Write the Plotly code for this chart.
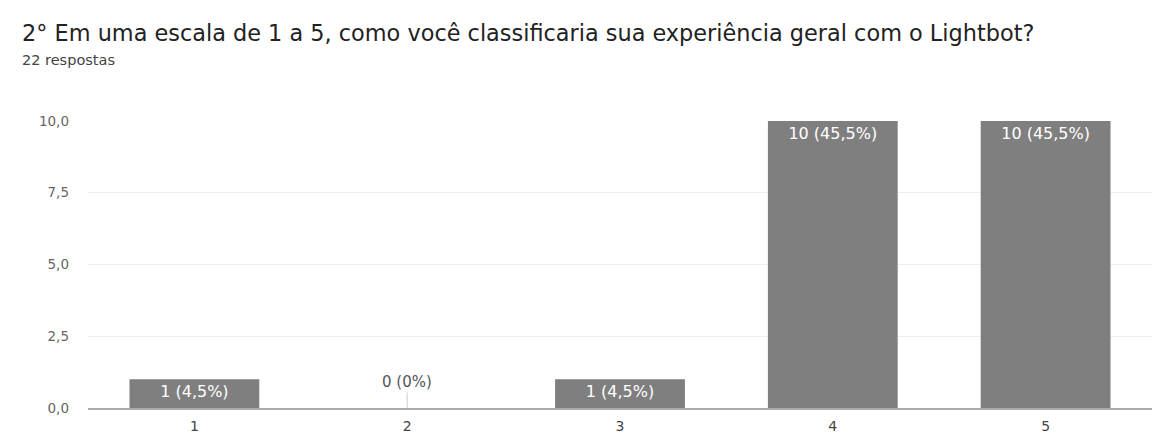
import plotly.graph_objects as go

categories = ["1", "2", "3", "4", "5"]
counts = [1, 0, 1, 10, 10]
y_ticks = [0, 2.5, 5, 7.5, 10]
title_text = "2° Em uma escala de 1 a 5, como você classificaria sua experiência geral com o Lightbot?"
subtitle_text = "22 respostas"

total = sum(counts)
FONT = "DejaVu Sans"


def pct_label(v):
    p = v / total * 100
    if v == 0:
        return "0 (0%)"
    return f"{v} ({p:.1f}%)".replace(".", ",")


labels = [pct_label(v) if v > 0 else "" for v in counts]

fig = go.Figure()
fig.add_trace(go.Bar(
    x=categories, y=counts, text=labels,
    textposition="inside", insidetextanchor="end",
    textfont=dict(color="white", size=16, family=FONT),
    marker=dict(color="#7f7f7f", line=dict(width=0)),
    hoverinfo="skip",
))

annotations = [
    dict(text=title_text, xref="paper", yref="paper", x=-0.064, y=1.305,
         xanchor="left", yanchor="middle", showarrow=False,
         font=dict(size=22.4, color="#222222", family=FONT)),
    dict(text=subtitle_text, xref="paper", yref="paper", x=-0.064, y=1.212,
         xanchor="left", yanchor="middle", showarrow=False,
         font=dict(size=14.5, color="#444444", family=FONT)),
]
for i, (c, v) in enumerate(zip(categories, counts)):
    if v == 0:
        annotations.append(dict(
            text=pct_label(v), x=i, y=v, xref="x", yref="y",
            showarrow=True, arrowhead=0, arrowwidth=1, arrowcolor="#cccccc",
            ax=0, ay=-26, font=dict(size=15, color="#555555", family=FONT),
        ))

fig.update_layout(
    width=1153, height=439,
    margin=dict(l=88, r=1, t=121, b=31),
    plot_bgcolor="white", paper_bgcolor="white",
    separators=",.",
    bargap=0.39,
    showlegend=False,
    font=dict(family=FONT, color="#555555", size=13),
    annotations=annotations,
    xaxis=dict(showgrid=False, showline=True, linecolor="#aaaaaa", linewidth=2,
               ticks="", tickfont=dict(size=14, color="#444444"), zeroline=False,
               ticklabelstandoff=4),
    yaxis=dict(range=[0, 10], tickvals=y_ticks, tickformat=".1f",
               showgrid=True, gridcolor="#eeeeee", gridwidth=1,
               zeroline=False, showline=False, ticks="",
               tickfont=dict(size=13.5, color="#666666"), ticklabelstandoff=18),
)

fig.write_html("out.html")
